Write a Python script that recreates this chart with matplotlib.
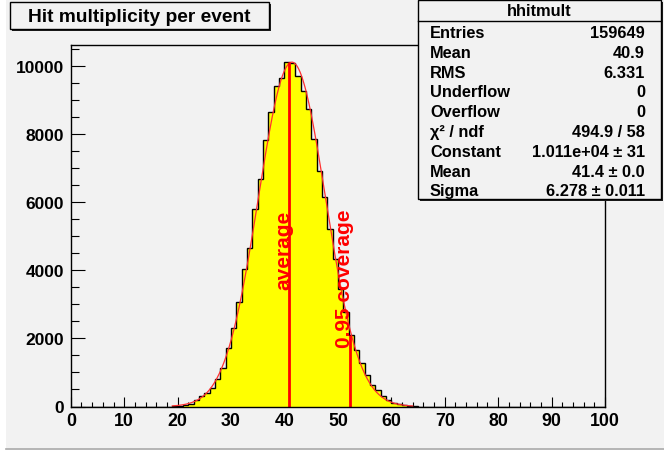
import numpy as np
import matplotlib
matplotlib.use("Agg")
import matplotlib.pyplot as plt
from matplotlib.patches import Rectangle

# ---------------- data ----------------
first_bin = 19
counts = [10, 25, 45, 88, 180, 300, 390, 530, 794, 1118,
          1706, 2314, 3060, 4029, 4667, 5794, 6670, 7830, 8637, 9395,
          9645, 10108, 10088, 9716, 9255, 8735, 7853, 6922, 6137, 5206,
          4324, 3450, 2765, 2100, 1660, 1284, 920, 630, 490, 304,
          185, 110, 60, 30, 12, 5]
fit_constant = 1.011e4
fit_mean = 41.4
fit_sigma = 6.278
fit_range = (19, 64)
average_x = 40.9
coverage_x = 52.2
average_label_y = 3440
coverage_label_y = 1735

title = "Hit multiplicity per event"
stats_name = "hhitmult"
stats_labels = ["Entries", "Mean", "RMS", "Underflow", "Overflow",
                "\u03c7\u00b2 / ndf", "Constant", "Mean", "Sigma"]
stats_values = ["159649", "40.9", "6.331", "0", "0", "494.9 / 58",
                "1.011e+04 \u00b1 31", "41.4 \u00b1 0.0", "6.278 \u00b1 0.011"]

# ---------------- figure ----------------
W, H = 664, 452
FONT = "Liberation Sans"
BG = "#f2f2f2"
fig = plt.figure(figsize=(W / 100, H / 100), dpi=100, facecolor=BG)

def fx(x):
    return x / W

def fy(y):
    return 1 - y / H

x0, x1 = 70.8, 605.0
ytop, ybot = 46.0, 407.5
ax = fig.add_axes([fx(x0), fy(ybot), fx(x1) - fx(x0), fy(ytop) - fy(ybot)])
ax.set_facecolor(BG)

edges = np.arange(0, 101)
vals = np.zeros(100)
vals[first_bin:first_bin + len(counts)] = counts
ax.stairs(vals, edges, fill=True, color="#ffff00", zorder=2)
ax.stairs(vals, edges, baseline=0, color="black", lw=1.0, zorder=3)

xf = np.linspace(fit_range[0], fit_range[1], 400)
yf = fit_constant * np.exp(-0.5 * ((xf - fit_mean) / fit_sigma) ** 2)
ax.plot(xf, yf, color="#ff3030", lw=0.9, zorder=4)

for xv in (average_x, coverage_x):
    h = vals[int(xv)]
    ax.plot([xv, xv], [0, h], color="#ff0000", lw=2.0, zorder=5,
            solid_capstyle="butt")

tkw = dict(rotation=90, rotation_mode="anchor", ha="left", va="baseline",
           color="#ff0000", fontsize=15, fontweight="bold", family=FONT,
           zorder=6)
ax.text(average_x, average_label_y, "average", **tkw)
ax.text(coverage_x, coverage_label_y, "0.95 coverage", **tkw)

ax.set_xlim(0, 100)
ax.set_ylim(0, 10613)
ax.set_xticks(np.arange(0, 101, 10))
ax.set_xticks(np.arange(0, 101, 2), minor=True)
ax.set_yticks(np.arange(0, 10001, 2000))
ax.set_yticks(np.arange(0, 10501, 500), minor=True)
ax.tick_params(axis="x", which="major", direction="in", length=7.5, width=0.8,
               pad=4, labelsize=12.8)
ax.tick_params(axis="x", which="minor", direction="in", length=3.8, width=0.8)
ax.tick_params(axis="y", which="major", direction="in", length=10, width=0.8,
               pad=5, labelsize=12.5)
ax.tick_params(axis="y", which="minor", direction="in", length=5.5, width=0.8)
for lab in ax.get_xticklabels() + ax.get_yticklabels():
    lab.set_fontfamily(FONT)
    lab.set_fontweight("bold")
for s in ax.spines.values():
    s.set_linewidth(1.0)
    s.set_zorder(7)

# white screenshot margins
fig.add_artist(Rectangle((0, 0), fx(6), 1, transform=fig.transFigure,
                         facecolor="white", edgecolor="none", zorder=1))
fig.add_artist(Rectangle((0, 0), 1, fy(449), transform=fig.transFigure,
                         facecolor="white", edgecolor="none", zorder=1))
fig.add_artist(plt.Line2D([fx(6), 1], [fy(449.5), fy(449.5)],
                          transform=fig.transFigure, color="#a8a8a8", lw=1.2,
                          zorder=2))

# ---------------- boxes ----------------
def box(l, t, r, b, shadow=2):
    fig.add_artist(Rectangle((fx(l + shadow), fy(b + shadow)), fx(r) - fx(l),
                             fy(t) - fy(b), transform=fig.transFigure,
                             facecolor="#202020", edgecolor="none", zorder=8))
    fig.add_artist(Rectangle((fx(l), fy(b)), fx(r) - fx(l), fy(t) - fy(b),
                             transform=fig.transFigure, facecolor=BG,
                             edgecolor="black", lw=1.0, zorder=9))

box(10, 3, 269, 30)
fig.text(fx(139.5), fy(17), title, ha="center", va="center", fontsize=13.8,
         fontweight="bold", family=FONT, zorder=10)

box(418, 0.5, 661, 200)
fig.add_artist(plt.Line2D([fx(418), fx(661)], [fy(22), fy(22)],
                          transform=fig.transFigure, color="black", lw=1.0,
                          zorder=10))
fig.text(fx(539), fy(11.5), stats_name, ha="center", va="center", fontsize=11.8,
         fontweight="bold", family=FONT, zorder=10)
for i, (lab, val) in enumerate(zip(stats_labels, stats_values)):
    yc = 33.5 + 19.8 * i
    fig.text(fx(430), fy(yc), lab, ha="left", va="center", fontsize=11.8,
             fontweight="bold", family=FONT, zorder=10)
    fig.text(fx(645), fy(yc), val, ha="right", va="center", fontsize=11.8,
             fontweight="bold", family=FONT, zorder=10)

fig.savefig("out.png", dpi=100, facecolor=fig.get_facecolor())
